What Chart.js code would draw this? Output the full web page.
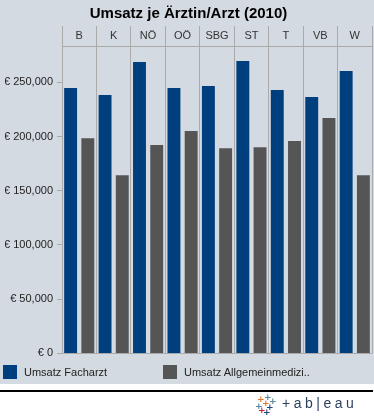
<!DOCTYPE html>
<html>
<head>
<meta charset="utf-8">
<script src="https://cdn.jsdelivr.net/npm/chart.js@4"></script>
<style>
  body { margin: 0; background: #fff; width: 374px; height: 420px; overflow: hidden; font-family: "Liberation Sans", Arial, sans-serif; }
  #panel { position: absolute; left: 0; top: 0; width: 374px; height: 384px; background: #D3DAE1; }
  #wrap { position: absolute; left: 0; top: 0; width: 374px; height: 364px; }
  #legend { position: absolute; left: 0; top: 360px; width: 374px; height: 24px; }
  .item { position: absolute; top: 5px; height: 14px; font-size: 11px; color: #222; line-height: 14px; white-space: nowrap; }
  .item i { position: absolute; left: 0; top: 0; width: 14px; height: 14px; }
  .item span { position: absolute; left: 21px; top: 0; }
  #rule { position: absolute; left: 0; top: 390px; width: 373px; height: 2px; background: #000; }
  #logo { position: absolute; left: 254px; top: 393px; width: 120px; height: 24px; }
  #logo b { position: absolute; font: bold 9px "DejaVu Sans", sans-serif; line-height: 9px; }
  #logo .word { position: absolute; left: 28px; top: 2px; font: 14px "Liberation Sans", Arial, sans-serif; letter-spacing: 3.5px; color: #2B3F5E; line-height: 16px; white-space: nowrap; }
</style>
</head>
<body>
<div id="panel">
  <div id="wrap"><canvas id="chart"></canvas></div>
  <div id="legend"></div>
</div>
<div id="rule"></div>
<div id="logo">
  <b style="left:3px;top:2px;color:#E8762B">+</b>
  <b style="left:10px;top:0px;color:#5B879B">+</b>
  <b style="left:15px;top:4px;color:#5B879B">+</b>
  <b style="left:8px;top:6px;color:#E8762B">+</b>
  <b style="left:1px;top:9px;color:#59879B">+</b>
  <b style="left:12px;top:10px;color:#1F457E">+</b>
  <b style="left:4px;top:13px;color:#C72035">+</b>
  <b style="left:9px;top:15px;color:#1F457E">+</b>
  <span class="word">+ab|eau</span>
</div>
<script>
const categories = ['B', 'K', 'NÖ', 'OÖ', 'SBG', 'ST', 'T', 'VB', 'W'];
const seriesNames = ['Umsatz Facharzt', 'Umsatz Allgemeinmedizi..'];
const facharzt = [244700, 238300, 268700, 244700, 246600, 269700, 242900, 236400, 260400];
const allgemein = [198500, 164400, 192100, 205000, 189300, 190200, 195800, 217000, 164400];
const yTicks = [0, 50000, 100000, 150000, 200000, 250000];
const yMax = 283500;
const colors = ['#003F7E', '#555555'];

const font = { family: '"Liberation Sans", Arial, sans-serif', size: 11 };

const chart = new Chart(document.getElementById('chart').getContext('2d'), {
    type: 'bar',
    data: {
        labels: categories,
        datasets: [
            { label: seriesNames[0], data: facharzt, backgroundColor: colors[0], barPercentage: 0.75, categoryPercentage: 1.0 },
            { label: seriesNames[1], data: allgemein, backgroundColor: colors[1], barPercentage: 0.75, categoryPercentage: 1.0 }
        ]
    },
    options: {
        responsive: true,
        maintainAspectRatio: false,
        animation: false,
        layout: { padding: { top: 0, left: 5, right: 2, bottom: 7 } },
        plugins: {
            legend: { display: false },
            tooltip: { enabled: false },
            title: {
                display: true,
                text: 'Umsatz je Ärztin/Arzt (2010)',
                color: '#000',
                font: { family: font.family, size: 15, weight: 'bold' },
                padding: { top: 5, bottom: 3 }
            }
        },
        scales: {
            x: {
                position: 'top',
                offset: true,
                grid: { offset: true, color: '#AAAAAA', tickColor: '#AAAAAA', tickLength: 20 },
                border: { display: true, color: '#AAAAAA' },
                ticks: { padding: -17, color: '#333', font: font, maxRotation: 0, autoSkip: false },
                afterFit: function (s) { s.height = 20; }
            },
            y: {
                min: 0,
                max: yMax,
                afterBuildTicks: function (s) { s.ticks = yTicks.map(v => ({ value: v })); },
                grid: {
                    color: c => (c.tick && c.tick.value === 0) ? '#AAAAAA' : 'rgba(0,0,0,0)',
                    tickColor: '#AAAAAA',
                    tickLength: 5
                },
                border: { display: true, color: '#AAAAAA' },
                ticks: {
                    padding: 4,
                    color: '#222',
                    font: font,
                    callback: v => '€ ' + v.toLocaleString('en-US')
                },
                afterFit: function (s) { s.width = 57; }
            }
        }
    }
});

// legend built from the dataset names/colours
const legend = document.getElementById('legend');
const legendX = [3, 163];
seriesNames.forEach((name, i) => {
    const el = document.createElement('div');
    el.className = 'item';
    el.style.left = legendX[i] + 'px';
    el.innerHTML = '<i style="background:' + colors[i] + '"></i><span>' + name + '</span>';
    legend.appendChild(el);
});
</script>
</body>
</html>
